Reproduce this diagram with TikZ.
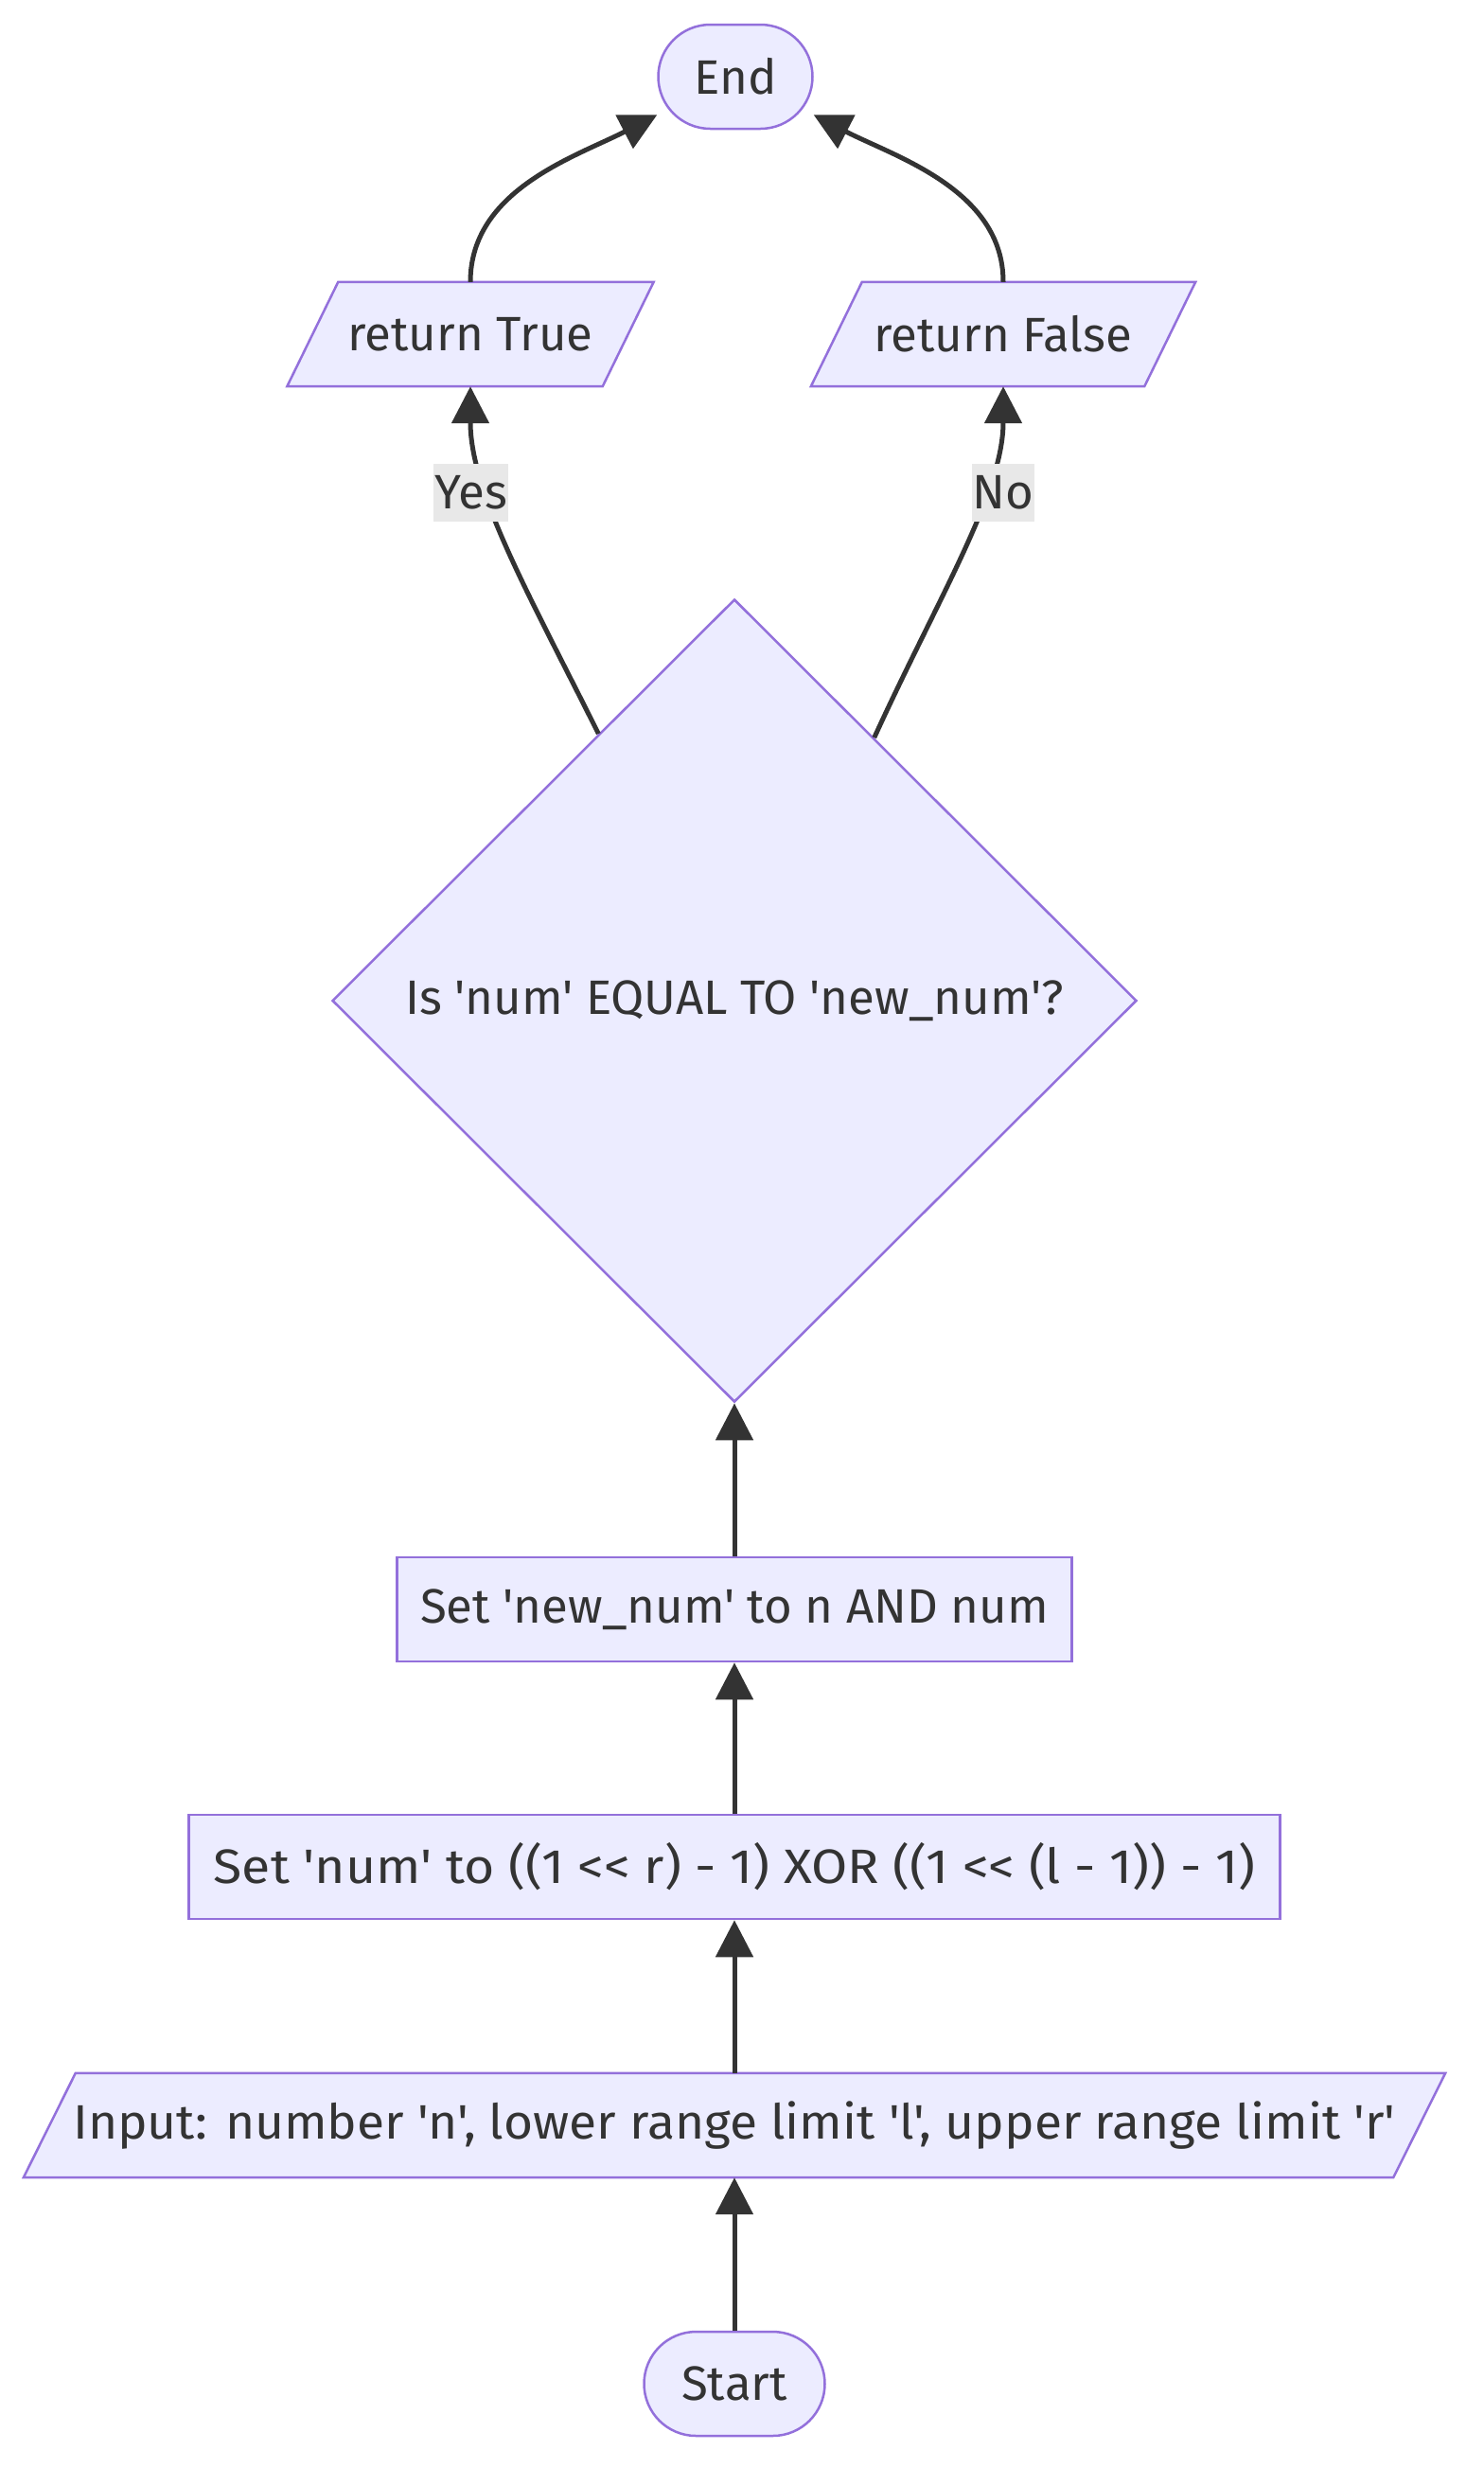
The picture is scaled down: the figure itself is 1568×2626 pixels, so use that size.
\documentclass[tikz,border=0pt]{standalone}
\usepackage{fontspec}
\newfontfamily\flowfont{Fira Sans}
\usetikzlibrary{shapes.geometric, arrows.meta, backgrounds}
\definecolor{nodefill}{HTML}{ECECFF}
\definecolor{nodeline}{HTML}{9370DB}
\definecolor{edgecol}{HTML}{333333}
\definecolor{lblbg}{HTML}{E8E8E8}
\begin{document}
\begin{tikzpicture}[x=1pt, y=-1pt,
  every node/.style={font=\flowfont\fontsize{51}{61}\selectfont, text=edgecol},
  box/.style={draw=nodeline, fill=nodefill, line width=2.5pt, minimum height=110pt, inner sep=0pt},
  term/.style={box, rounded corners=55pt},
  iobox/.style={minimum height=110pt, inner sep=0pt},
  ioline/.style={draw=nodeline, fill=nodefill, line width=2.5pt},
  decision/.style={diamond, draw=nodeline, fill=nodefill, line width=2.5pt,
    minimum width=850pt, minimum height=848pt, inner sep=0pt},
  flow/.style={draw=edgecol, line width=5pt, -{Triangle[length=39pt, width=39pt]}},
  edgelbl/.style={fill=lblbg, inner xsep=1pt, inner ysep=0pt, minimum height=61pt}
]
\useasboundingbox (0,0) rectangle (1568,2626);

% nodes
\node[term, minimum width=163pt] (endn) at (777,81) {End};
\node[iobox, minimum width=333pt] (retT) at (497,353) {return True};
\node[iobox, minimum width=352pt] (retF) at (1060,353) {return False};
\node[decision] (dec) at (776,1057) {Is 'num' EQUAL TO 'new\_num'?};
\node[box, minimum width=713pt] (setnew) at (776,1700) {Set 'new\_num' to n AND num};
\node[box, minimum width=1153pt] (setnum) at (776,1972)
  {\scalebox{1.085}[1]{Set 'num' to ((1 << r) - 1) XOR ((1 << (l - 1)) - 1)}};
\node[iobox, minimum width=1447pt] (inp) at (776,2245)
  {\scalebox{1.045}[1]{Input: number 'n', lower range limit 'l', upper range limit 'r'}};
\node[term, minimum width=191pt] (start) at (776,2518) {Start};

% parallelogram outlines of the input/output nodes
\begin{scope}[on background layer]
  \foreach \n/\s in {retT/27pt, retF/27pt, inp/27.5pt}{
    \path[ioline] ([xshift=\s]\n.north west) -- ([xshift=\s]\n.north east)
      -- ([xshift=-\s]\n.south east) -- ([xshift=-\s]\n.south west) -- cycle;
  }
\end{scope}

% connectors
\draw[flow] (start) -- (inp);
\draw[flow] (inp) -- (setnum);
\draw[flow] (setnum) -- (setnew);
\draw[flow] (setnew) -- (dec);
\draw[flow] (dec.117.5) .. controls (560,630) and (497,520) .. (retT.south);
\draw[flow] (dec.62.5) .. controls (992,630) and (1060,520) .. (retF.south);
\draw[flow] (retT.north) .. controls (497,200) and (610,165) .. (endn.206);
\draw[flow] (retF.north) .. controls (1060,200) and (944,165) .. (endn.334);

% edge labels
\node[edgelbl] (yes) at (497.5,520) {Yes};
\node[edgelbl] (no) at (1060,520) {No};
\end{tikzpicture}
\end{document}
